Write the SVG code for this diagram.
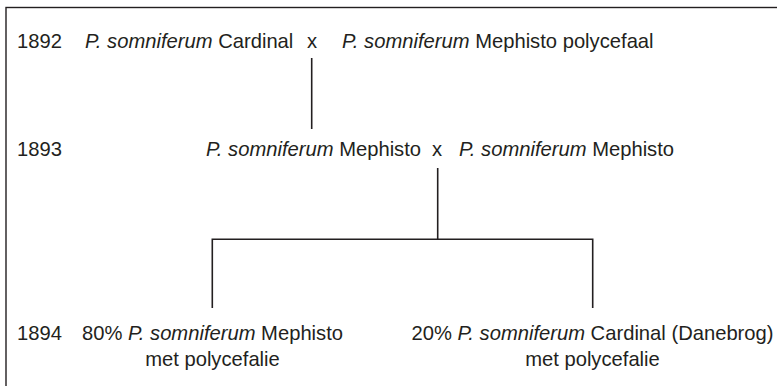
<svg xmlns="http://www.w3.org/2000/svg" width="777" height="386" viewBox="0 0 777 386">
<style>
text{font-family:"Liberation Sans",Arial,sans-serif;font-size:20.2px;fill:#231f20}
.i{font-style:italic}
.c{text-anchor:middle}
.ln{stroke:#231f20;stroke-width:1.6;fill:none}
.frame{stroke:#231f20;stroke-width:1.4;fill:#fff}
</style>
<rect class="frame" x="6" y="7.5" width="800" height="400"/>
<g id="years">
<text x="17" y="48">1892</text>
<text x="17" y="156">1893</text>
<text x="17" y="340">1894</text>
</g>
<g id="p1892a"><text x="85" y="48"><tspan class="i">P. somniferum</tspan> Cardinal</text></g>
<g id="x1892"><text x="307" y="48">x</text></g>
<g id="p1892b"><text x="342" y="48"><tspan class="i">P. somniferum</tspan> Mephisto polycefaal</text></g>
<g id="p1893a"><text x="206" y="156"><tspan class="i">P. somniferum</tspan> Mephisto</text></g>
<g id="x1893"><text x="432" y="156">x</text></g>
<g id="p1893b"><text x="459" y="156"><tspan class="i">P. somniferum</tspan> Mephisto</text></g>
<g id="f80">
<text class="c" x="212.5" y="340">80% <tspan class="i">P. somniferum</tspan> Mephisto</text>
<text class="c" x="212.5" y="366">met polycefalie</text>
</g>
<g id="f20">
<text class="c" x="592.5" y="340">20% <tspan class="i">P. somniferum</tspan> Cardinal (Danebrog)</text>
<text class="c" x="592.5" y="366">met polycefalie</text>
</g>
<g id="connectors">
<path class="ln" d="M311.7 58V129"/>
<path class="ln" d="M437.7 168V239.3"/>
<path class="ln" d="M212.3 308V239.3H592.7V308"/>
</g>
</svg>
